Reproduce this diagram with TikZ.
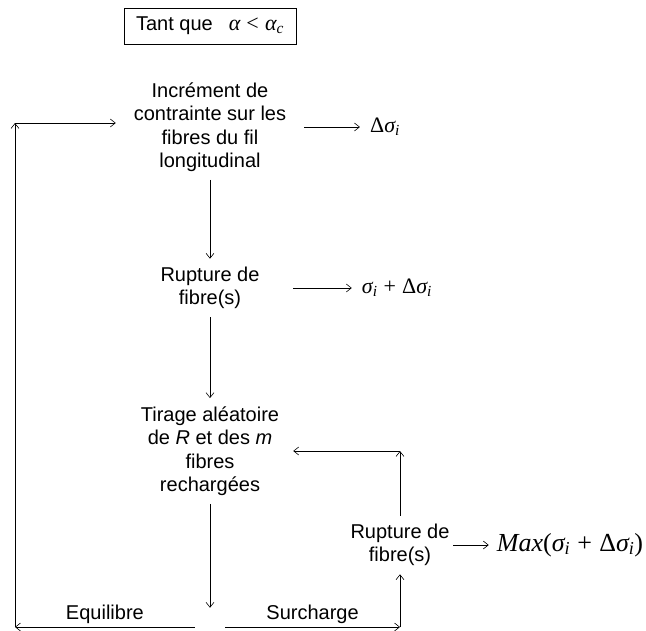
\documentclass[tikz,border=0pt]{standalone}
\usepackage{fontspec}
\setmainfont{Liberation Sans}
\newfontfamily\tnr{Liberation Serif}
\usetikzlibrary{positioning,arrows.meta}

\newcommand{\sigi}{{\itshape σ}\textsubscript{\itshape i}}

\begin{document}
\begin{tikzpicture}[
    x=1pt, y=-1pt,
    node distance=100pt,
    every node/.style={font=\fontsize{20}{23.5}\selectfont},
    etape/.style={align=center, inner xsep=0pt, inner ysep=8pt},
    formule/.style={font=\fontsize{22}{26}\selectfont\tnr, inner xsep=10pt},
    cadre/.style={rectangle, draw=black, line width=0.8pt, minimum width=172pt, minimum height=36pt},
    arrow/.style={line width=0.6pt, ->, >={Straight Barb[length=5pt,width=8pt]}}
]
\useasboundingbox (0,0) rectangle (646,630);

% Nodes
\node (cond) [cadre] at (210,26) {Tant que\hspace{16pt}{\tnr\fontsize{22}{26}\selectfont{\itshape α}\;<\;{\itshape α\textsubscript{c}}}};
\node (incr) [etape, below of=cond, node distance=101pt, minimum width=188pt] {Incrément de\\contrainte sur les\\fibres du fil\\longitudinal};
\node (rupt) [etape, below of=incr, node distance=161pt, minimum width=166pt] {Rupture de\\fibre(s)};
\node (tirage) [etape, below of=rupt, node distance=163pt, minimum width=166pt] {Tirage aléatoire\\de \textit{R} et des \textit{m}\\fibres\\rechargées};
\node (choix) [below of=tirage, node distance=176pt, minimum width=30pt, minimum height=38pt] {};
\node (ruptb) [etape, below of=tirage, node distance=94pt, xshift=190pt, minimum width=106pt] {Rupture de\\fibre(s)};

\node (dsig) [formule, right of=incr, node distance=175pt] {Δ\sigi};
\node (sig) [formule, right of=rupt, node distance=187pt] {\sigi\;+\;Δ\sigi};
\node (maxsig) [formule, font=\fontsize{26}{30}\selectfont\tnr, inner xsep=8pt, right of=ruptb, node distance=170pt] {{\itshape Max}(\sigi\;+\;Δ\sigi)};

\coordinate (hg) at (15,123);
\coordinate (bg) at (hg |- choix);
\coordinate (bd) at (ruptb |- choix);
\coordinate (hd) at (ruptb |- tirage);

% Arrows
\draw [arrow] (incr) -- (rupt);
\draw [arrow] (rupt) -- (tirage);
\draw [arrow] (tirage) -- (choix);
\draw [arrow] (choix.west) -- node[midway, above] (equ) {Equilibre} (bg);
\draw [arrow] (bg) -- (hg);
\draw [arrow] (hg) -- (hg -| incr.west);
\draw [arrow] (choix.east) -- node[midway, above] (surch) {Surcharge} (bd);
\draw [arrow] (bd) -- (ruptb);
\draw [arrow] (ruptb) -- (hd);
\draw [arrow] (hd) -- (tirage);
\draw [arrow] (incr) -- (dsig);
\draw [arrow] (rupt) -- (sig);
\draw [arrow] (ruptb) -- (maxsig);

\end{tikzpicture}
\end{document}
